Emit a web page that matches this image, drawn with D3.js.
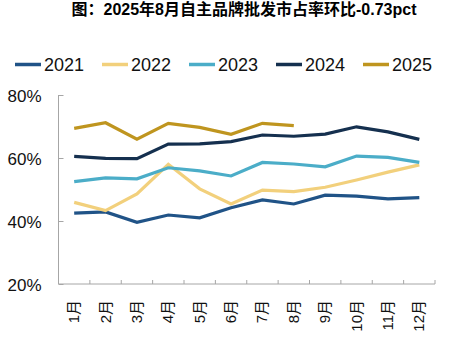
<!DOCTYPE html>
<html>
<head>
  <meta charset="UTF-8">
  <style>
    body { margin: 0; background: #fff; }
    svg { display: block; font-family: 'Liberation Sans', Arial, 'Noto Sans CJK SC', sans-serif; }
  </style>
</head>
<body>
<svg></svg>
<script src="https://d3js.org/d3.v7.min.js"></script>
<script>
  let width = 468, height = 340;

  // months and yearly share (%)
  let months = ["1月","2月","3月","4月","5月","6月","7月","8月","9月","10月","11月","12月"];
  let years = ["2021","2022","2023","2024","2025"];
  let s2021 = [42.5, 42.9, 39.6, 41.9, 41.0, 44.2, 46.7, 45.4, 48.2, 47.9, 47.0, 47.4];
  let s2022 = [45.9, 43.3, 48.6, 58.0, 50.2, 45.4, 49.8, 49.3, 50.7, 53.0, 55.5, 57.8];
  let s2023 = [52.5, 53.7, 53.4, 56.9, 55.9, 54.3, 58.6, 58.1, 57.2, 60.6, 60.2, 58.6];
  let s2024 = [60.5, 59.9, 59.8, 64.4, 64.5, 65.2, 67.3, 66.9, 67.6, 69.9, 68.3, 65.9];
  let s2025 = [69.4, 71.2, 66.0, 71.0, 69.7, 67.5, 71.0, 70.3];
  let yTicks = [20, 40, 60, 80];

  let colors = ["#205387", "#f2d07c", "#4badc8", "#15304f", "#bf951f"];
  let series = [s2021, s2022, s2023, s2024, s2025];

  let svg = d3.select("svg").attr("width", width).attr("height", height);

  // title
  svg.append("text")
      .attr("x", 244).attr("y", 15)
      .attr("text-anchor", "middle")
      .attr("font-size", 16).attr("font-weight", "bold")
      .attr("fill", "#000")
      .text("图：2025年8月自主品牌批发市占率环比-0.73pct");

  // legend
  let legend = svg.append("g").selectAll("g")
      .data(years).enter().append("g")
      .attr("transform", (d, i) => "translate(" + (15 + i * 87) + ",0)");
  legend.append("line")
      .attr("x1", 0).attr("x2", 26).attr("y1", 64.5).attr("y2", 64.5)
      .attr("stroke", (d, i) => colors[i]).attr("stroke-width", 3.5);
  legend.append("text")
      .attr("x", 29).attr("y", 71)
      .attr("font-size", 18).attr("fill", "#111")
      .text(d => d);

  let x = d3.scaleBand().domain(months).range([58.5, 435]);
  let y = d3.scaleLinear().domain([20, 80]).range([284, 95]);

  let grey = "#a6a6a6";

  // y axis
  let yAxis = svg.append("g")
      .attr("transform", "translate(58.5,0)")
      .call(d3.axisLeft(y).tickValues(yTicks).tickSize(-5).tickPadding(18).tickFormat(d => d + "%"));
  yAxis.select(".domain").attr("stroke", grey).attr("d", "M0,95V284");
  yAxis.selectAll(".tick line").attr("stroke", grey);
  yAxis.selectAll(".tick text")
      .attr("font-size", 17).attr("fill", "#111")
      .attr("x", -17).attr("dy", "0.36em")
      .attr("font-family", "'Liberation Sans', Arial, sans-serif");

  // x axis with ticks between the months
  let xAxis = svg.append("g").attr("transform", "translate(0,284)");
  xAxis.append("line")
      .attr("x1", 58.5).attr("x2", 435).attr("stroke", grey);
  xAxis.selectAll(".tk")
      .data(months.concat(["end"])).enter().append("line")
      .attr("x1", (d, i) => i < months.length ? x(d) : x.range()[1])
      .attr("x2", (d, i) => i < months.length ? x(d) : x.range()[1])
      .attr("y1", 0).attr("y2", -4).attr("stroke", grey);
  xAxis.selectAll(".lbl")
      .data(months).enter().append("text")
      .attr("transform", d => "translate(" + (x(d) + x.bandwidth() / 2 + 5) + ",16) rotate(-90)")
      .attr("text-anchor", "end")
      .attr("font-size", 15).attr("fill", "#111")
      .text(d => d);

  // lines
  let line = d3.line()
      .x((d, i) => x(months[i]) + x.bandwidth() / 2)
      .y(d => y(d));

  svg.append("g").selectAll("path")
      .data(series).enter().append("path")
      .attr("d", d => line(d))
      .attr("fill", "none")
      .attr("stroke", (d, i) => colors[i])
      .attr("stroke-width", 3.2)
      .attr("stroke-linejoin", "miter");
</script>
</body>
</html>
